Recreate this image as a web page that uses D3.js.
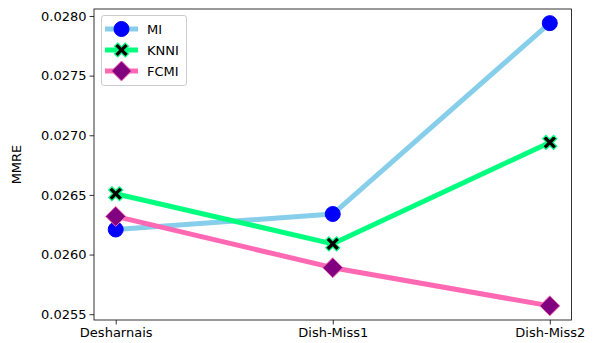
<!DOCTYPE html>
<html>
<head>
<meta charset="utf-8">
<script src="https://cdn.jsdelivr.net/npm/d3@7"></script>
<style>
  html, body { margin: 0; padding: 0; background: #fff; }
  svg { display: block; font-family: "DejaVu Sans", sans-serif; }
</style>
</head>
<body>
<svg id="chart" width="598" height="343"></svg>
<script>
// Datasets on the x axis
const categories = ["Desharnais", "Dish-Miss1", "Dish-Miss2"];

// MMRE per imputation method
const miValues   = [0.02621, 0.02634, 0.02794];
const knniValues = [0.02651, 0.02609, 0.02694];
const fcmiValues = [0.02632, 0.02589, 0.02557];

const yTicks = [0.0255, 0.0260, 0.0265, 0.0270, 0.0275, 0.0280];

const series = [
  { name: "MI",   values: miValues,   line: "#87CEEB", marker: "circle",  fill: "#0000FF", edge: "#0000FF" },
  { name: "KNNI", values: knniValues, line: "#00FF7F", marker: "x",       fill: "#000000", edge: "#00FF7F" },
  { name: "FCMI", values: fcmiValues, line: "#FF69B4", marker: "diamond", fill: "#800080", edge: "#FF69B4" }
];

const svg = d3.select("#chart");
const plot = { left: 94, right: 571.5, top: 9, bottom: 320 };

// Category positions with matplotlib-like 5% padding on each side
const x = d3.scaleLinear()
  .domain([-0.1, categories.length - 1 + 0.1])
  .range([plot.left, plot.right]);

const allVals = miValues.concat(knniValues, fcmiValues);
const yMin = d3.min(allVals), yMax = d3.max(allVals);
const pad = (yMax - yMin) * 0.05;
const y = d3.scaleLinear()
  .domain([yMin - pad, yMax + pad])
  .range([plot.bottom, plot.top]);

// Axes
const xAxis = d3.axisBottom(x)
  .tickValues(categories.map((d, i) => i))
  .tickFormat(i => categories[i])
  .tickSizeInner(4.5).tickSizeOuter(0).tickPadding(3);
const yAxis = d3.axisLeft(y)
  .tickValues(yTicks)
  .tickFormat(d3.format(".4f"))
  .tickSizeInner(4.5).tickSizeOuter(0).tickPadding(3);

const gx = svg.append("g")
  .attr("transform", `translate(0,${plot.bottom})`)
  .call(xAxis);
const gy = svg.append("g")
  .attr("transform", `translate(${plot.left},0)`)
  .call(yAxis);
[gx, gy].forEach(g => {
  g.select(".domain").remove();
  g.selectAll(".tick line").attr("stroke", "#000").attr("stroke-width", 0.8);
  g.selectAll(".tick text").attr("fill", "#000").style("font-size", "13px")
    .style("font-family", "'DejaVu Sans', sans-serif");
});

// Frame
svg.append("rect")
  .attr("x", plot.left).attr("y", plot.top)
  .attr("width", plot.right - plot.left).attr("height", plot.bottom - plot.top)
  .attr("fill", "none").attr("stroke", "#000").attr("stroke-width", 0.8);

// Y label
svg.append("text")
  .attr("transform", `translate(21,${(plot.top + plot.bottom) / 2}) rotate(-90)`)
  .attr("text-anchor", "middle")
  .style("font-size", "13px")
  .text("MMRE");

// Marker shapes
function drawMarker(g, s, cx, cy, scale) {
  const k = scale || 1;
  if (s.marker === "circle") {
    g.append("circle").attr("cx", cx).attr("cy", cy).attr("r", 7.5 * k)
      .attr("fill", s.fill).attr("stroke", s.edge).attr("stroke-width", 1);
  } else if (s.marker === "diamond") {
    const r = 10 * k;
    g.append("path")
      .attr("d", `M${cx},${cy - r}L${cx + r},${cy}L${cx},${cy + r}L${cx - r},${cy}Z`)
      .attr("fill", s.fill).attr("stroke", s.edge).attr("stroke-width", 1);
  } else {
    // filled "X" marker
    const a = 7 * k, w = 3.2 * k;
    const p = [
      [-a + w, -a], [0, -w], [a - w, -a], [a, -a + w], [w, 0], [a, a - w],
      [a - w, a], [0, w], [-a + w, a], [-a, a - w], [-w, 0], [-a, -a + w]
    ];
    g.append("path")
      .attr("d", "M" + p.map(q => `${cx + q[0]},${cy + q[1]}`).join("L") + "Z")
      .attr("fill", s.fill).attr("stroke", s.edge).attr("stroke-width", 1.2)
      .attr("stroke-linejoin", "miter");
  }
}

const line = d3.line().x((d, i) => x(i)).y(d => y(d));
const gData = svg.append("g");
series.forEach(s => {
  gData.append("path").datum(s.values)
    .attr("d", line)
    .attr("fill", "none").attr("stroke", s.line).attr("stroke-width", 5)
    .attr("stroke-linejoin", "round");
  s.values.forEach((v, i) => drawMarker(gData, s, x(i), y(v)));
});

// Legend
const lg = svg.append("g");
const lx = 101.5, ly = 15.5;
lg.append("rect")
  .attr("x", lx).attr("y", ly).attr("width", 85).attr("height", 70)
  .attr("rx", 2.5).attr("fill", "#fff").attr("fill-opacity", 0.8)
  .attr("stroke", "#cccccc").attr("stroke-width", 1);
series.forEach((s, i) => {
  const cy = 29 + i * 21;
  lg.append("line")
    .attr("x1", 105).attr("x2", 138).attr("y1", cy).attr("y2", cy)
    .attr("stroke", s.line).attr("stroke-width", 5);
  drawMarker(lg, s, 121.5, cy);
  lg.append("text")
    .attr("x", 147).attr("y", cy).attr("dy", "0.35em")
    .style("font-size", "13px")
    .text(s.name);
});
</script>
</body>
</html>
